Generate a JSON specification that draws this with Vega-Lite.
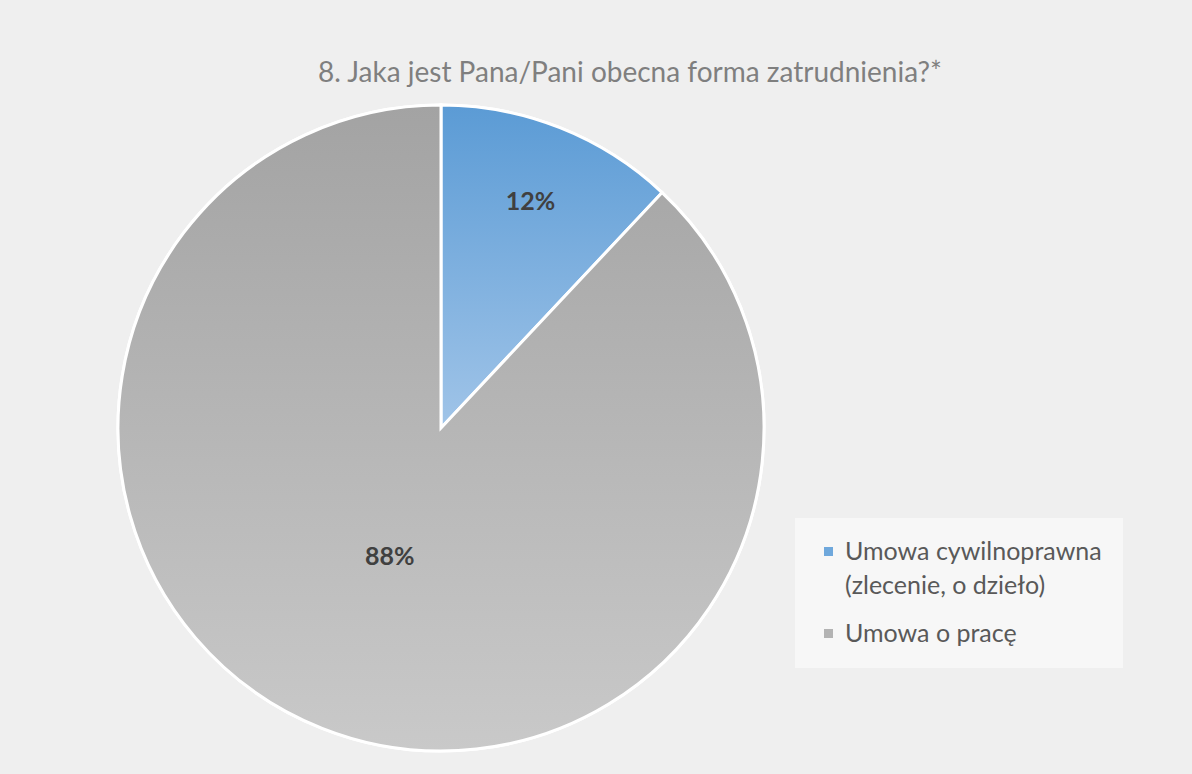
{
  "$schema": "https://vega.github.io/schema/vega-lite/v6.json",
  "autosize": "none",
  "width": 646,
  "height": 646,
  "padding": {"left": 118, "top": 105, "right": 428, "bottom": 23},
  "background": "#efefef",
  "config": {
    "view": {"stroke": null},
    "style": {"guide-label": {"lineHeight": 34}}
  },
  "title": {
    "text": "8. Jaka jest Pana/Pani obecna forma zatrudnienia?*",
    "font": "Lato",
    "fontSize": 28,
    "fontWeight": "normal",
    "color": "#7f7f7f",
    "anchor": "middle",
    "dx": 189,
    "dy": 39,
    "baseline": "alphabetic",
    "offset": 28
  },
  "data": {
    "values": [
      {"cat": "Umowa cywilnoprawna (zlecenie, o dzieło)", "value": 0.12},
      {"cat": "Umowa o pracę", "value": 0.88}
    ]
  },
  "layer": [
    {
      "mark": {"type": "arc", "stroke": "white", "strokeWidth": 3},
      "encoding": {
        "theta": {"field": "value", "type": "quantitative", "stack": true},
        "color": {
          "field": "cat",
          "type": "nominal",
          "scale": {
            "domain": ["Umowa cywilnoprawna (zlecenie, o dzieło)", "Umowa o pracę"],
            "range": ["#6fa8dc", "#b3b3b3"]
          },
          "legend": {
            "orient": "none",
            "legendX": 677,
            "legendY": 413,
            "title": null,
            "fillColor": "#f7f7f7",
            "padding": 21,
            "labelFont": "Lato",
            "labelFontSize": 25,
            "labelColor": "#595959",
            "labelLimit": 400,
            "symbolType": "square",
            "symbolSize": 81,
            "symbolStrokeWidth": 0,
            "rowPadding": 22,
            "labelOffset": 4,
            "labelExpr": "datum.label == 'Umowa cywilnoprawna (zlecenie, o dzieło)' ? ['Umowa cywilnoprawna', '(zlecenie, o dzieło)'] : datum.label"
          }
        }
      }
    },
    {
      "mark": {"type": "arc", "stroke": "white", "strokeWidth": 3},
      "encoding": {
        "theta": {"field": "value", "type": "quantitative", "stack": true},
        "detail": {"field": "cat", "type": "nominal"},
        "color": {
          "condition": {
            "test": "datum.cat == 'Umowa o pracę'",
            "value": {"gradient": "linear", "x1": 0, "y1": 0, "x2": 0, "y2": 1,
              "stops": [{"offset": 0, "color": "#a3a3a3"}, {"offset": 1, "color": "#c9c9c9"}]}
          },
          "value": {"gradient": "linear", "x1": 0, "y1": 0, "x2": 0, "y2": 1,
            "stops": [{"offset": 0, "color": "#5b9bd5"}, {"offset": 1, "color": "#a0c4e8"}]}
        }
      }
    },
    {
      "mark": {"type": "text", "radius": 243, "font": "Lato", "fontSize": 25, "fontWeight": "bold", "color": "#404040"},
      "encoding": {
        "theta": {"field": "value", "type": "quantitative", "stack": true},
        "detail": {"field": "cat", "type": "nominal"},
        "text": {
          "condition": {"test": "datum.cat != 'Umowa o pracę'", "field": "value", "type": "quantitative", "format": ".0%"},
          "value": ""
        }
      }
    },
    {
      "mark": {"type": "text", "radius": 139, "font": "Lato", "fontSize": 25, "fontWeight": "bold", "color": "#404040"},
      "encoding": {
        "theta": {"field": "value", "type": "quantitative", "stack": true},
        "detail": {"field": "cat", "type": "nominal"},
        "text": {
          "condition": {"test": "datum.cat == 'Umowa o pracę'", "field": "value", "type": "quantitative", "format": ".0%"},
          "value": ""
        }
      }
    }
  ]
}
